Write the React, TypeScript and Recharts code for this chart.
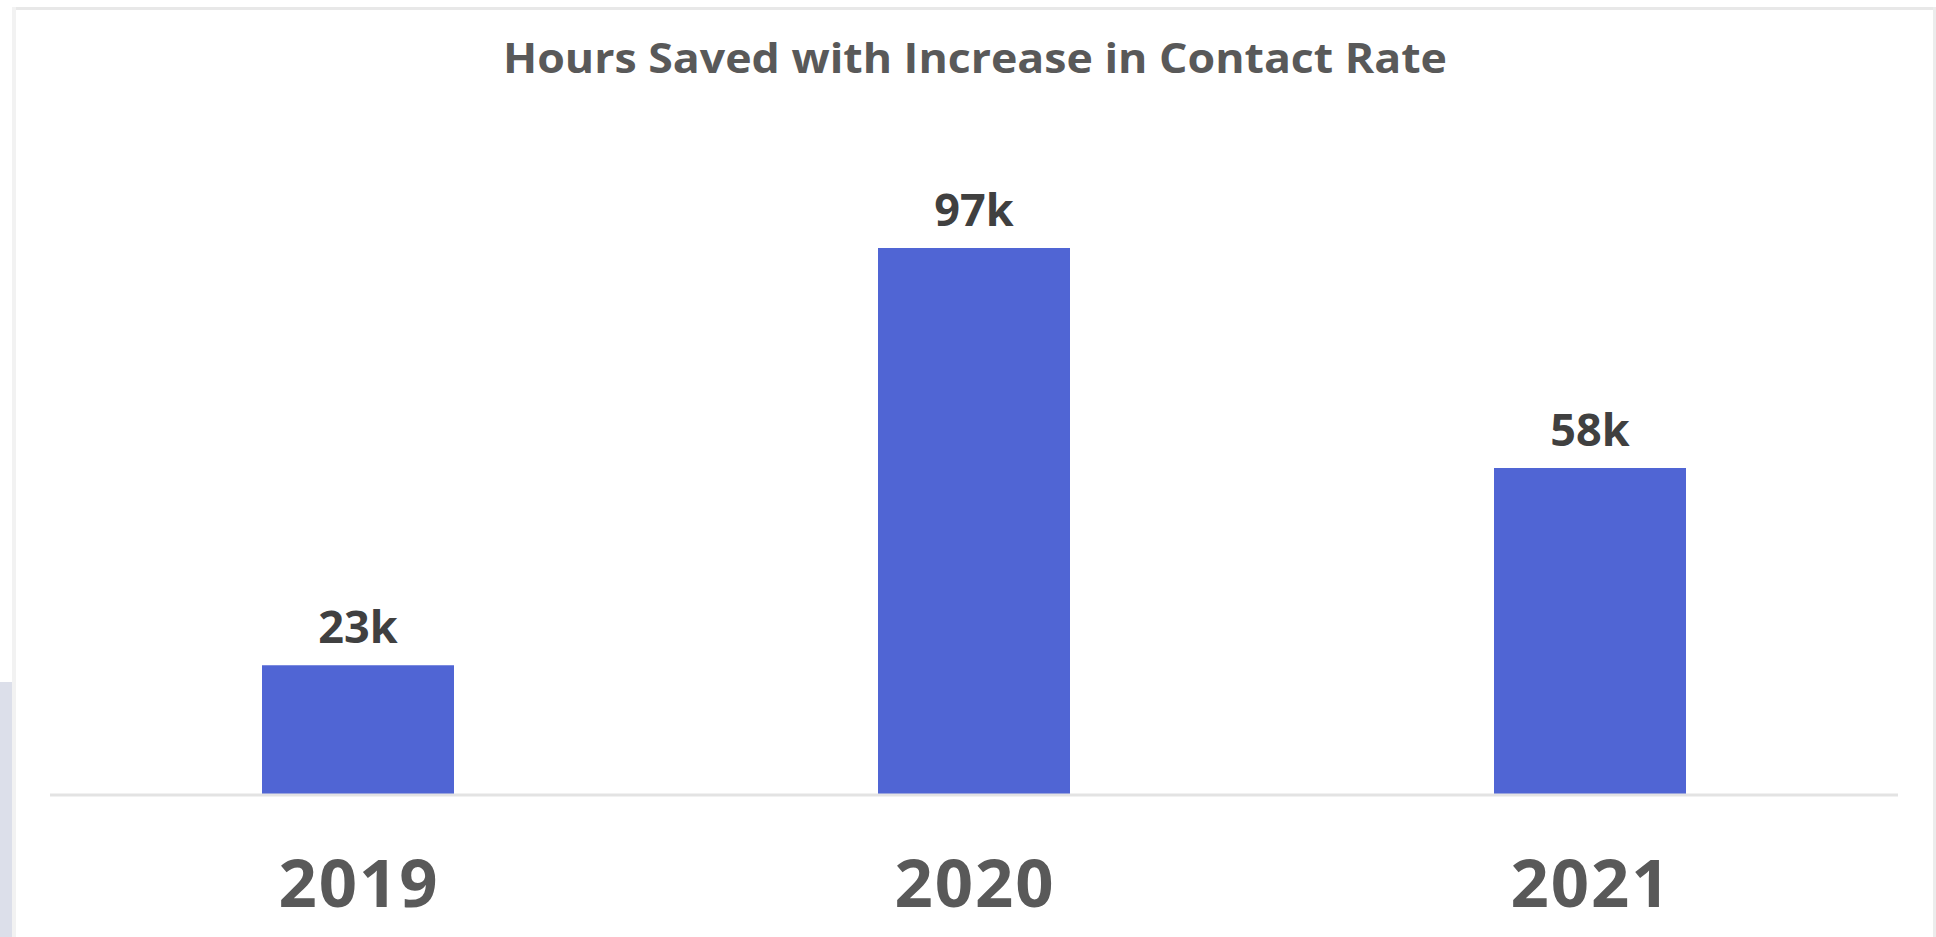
import { BarChart, Bar, XAxis, YAxis, LabelList } from "recharts";

const years = ["2019", "2020", "2021"];
const hoursSavedK = [23, 97, 58];

const data = years.map((year, i) => ({ year, hours: hoursSavedK[i] }));

const YearTick = (props: any) => {
  const { x, y, payload } = props;
  return (
    <text
      x={x + 1}
      y={y + 112}
      textAnchor="middle"
      fill="#595959"
      fontSize={67}
      fontWeight={700}
      letterSpacing={2}
      fontFamily="'Open Sans', sans-serif"
    >
      {payload.value}
    </text>
  );
};

const App = () => {
  return (
    <div style={{ position: "absolute", left: 0, top: 0, width: 1936, height: 937, background: "#fff", overflow: "hidden" }}>
      {/* frame */}
      <div style={{ position: "absolute", left: 12, top: 7, width: 1922, height: 3, background: "#e8e8e8" }} />
      <div style={{ position: "absolute", left: 12, top: 7, width: 4, height: 930, background: "#f2f2f2" }} />
      <div style={{ position: "absolute", left: 1933, top: 7, width: 3, height: 930, background: "#ececec" }} />
      <div style={{ position: "absolute", left: 0, top: 682, width: 12, height: 255, background: "#dcdfea" }} />

      <svg width={1936} height={120} style={{ position: "absolute", left: 0, top: 0 }}>
        <text
          x={503}
          y={73}
          textLength={944}
          lengthAdjust="spacingAndGlyphs"
          fill="#595959"
          fontSize={42}
          fontWeight={700}
          fontFamily="'Open Sans', sans-serif"
        >
          Hours Saved with Increase in Contact Rate
        </text>
      </svg>

      <div style={{ position: "absolute", left: 0, top: 0 }}>
        <BarChart
          width={1936}
          height={937}
          data={data}
          margin={{ top: 231, right: 38, bottom: 42, left: 50 }}
        >
          <XAxis
            dataKey="year"
            height={100}
            tickLine={false}
            tickSize={0}
            tickMargin={0}
            axisLine={{ stroke: "#e3e3e3", strokeWidth: 3 }}
            tick={<YearTick />}
            interval={0}
          />
          <YAxis hide domain={[0, 100]} />
          <Bar dataKey="hours" fill="#5065D4" barSize={192} isAnimationActive={false}>
            <LabelList
              dataKey="hours"
              position="top"
              offset={22}
              formatter={(v: any) => `${v}k`}
              fill="#404040"
              fontSize={45}
              fontWeight={700}
              fontFamily="'Open Sans', sans-serif"
            />
          </Bar>
        </BarChart>
      </div>
    </div>
  );
};

export default App;
